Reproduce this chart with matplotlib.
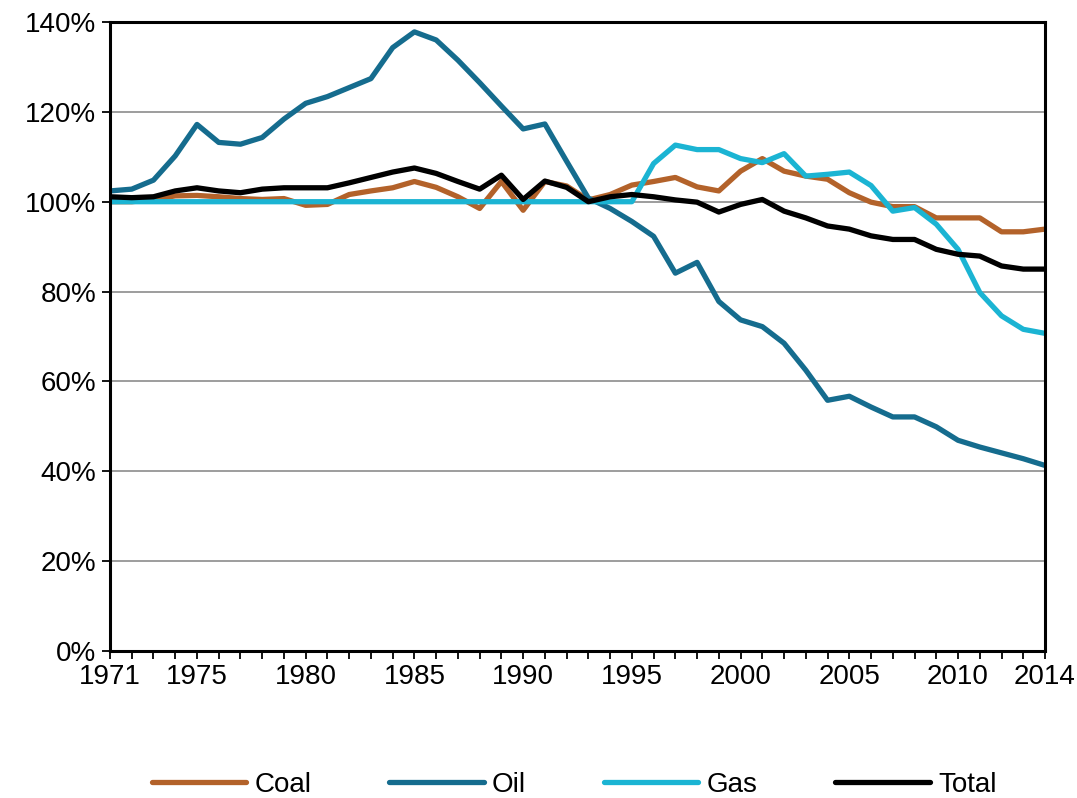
import matplotlib
matplotlib.use('Agg')
import matplotlib.pyplot as plt
import numpy as np

# index of energy intensity, 1971 = 100%
years = np.arange(1971, 2015)

coal = [100.0, 100.0, 100.5, 101.3, 101.4, 101.1, 100.7, 100.5, 100.7, 99.2,
        99.4, 101.6, 102.4, 103.1, 104.5, 103.2, 101.1, 98.5, 104.5, 98.1,
        104.5, 103.5, 100.4, 101.6, 103.7, 104.5, 105.4, 103.3, 102.4, 106.8,
        109.6, 106.8, 105.7, 105.0, 102.0, 99.9, 98.9, 98.9, 96.4, 96.4,
        96.4, 93.3, 93.3, 93.9]

oil = [102.4, 102.8, 104.8, 110.2, 117.2, 113.2, 112.8, 114.3, 118.4, 121.9,
       123.4, 125.4, 127.4, 134.3, 137.8, 136.0, 131.5, 126.5, 121.3, 116.2,
       117.3, 109.0, 100.8, 98.5, 95.6, 92.3, 84.1, 86.5, 77.8, 73.7,
       72.2, 68.5, 62.5, 55.8, 56.7, 54.3, 52.1, 52.1, 49.9, 46.9,
       45.4, 44.1, 42.8, 41.3]

gas = [100.0] * 25 + [108.5, 112.6, 111.6, 111.6, 109.6,
                      108.7, 110.7, 105.7, 106.1, 106.6, 103.6, 97.9, 98.7, 95.0, 89.4,
                      79.8, 74.6, 71.6, 70.7]

total = [101.1, 100.9, 101.1, 102.4, 103.1, 102.4, 102.0, 102.8, 103.1, 103.1,
         103.1, 104.2, 105.4, 106.6, 107.5, 106.3, 104.5, 102.8, 105.9, 100.5,
         104.6, 103.2, 100.0, 101.1, 101.6, 101.1, 100.4, 99.9, 97.7, 99.4,
         100.5, 97.9, 96.4, 94.6, 93.9, 92.4, 91.6, 91.6, 89.4, 88.3,
         87.9, 85.7, 85.0, 85.0]

labels = ['Coal', 'Oil', 'Gas', 'Total']
colors = ['#B3622A', '#156C8E', '#1BB4D3', '#000000']
xlabels = [1971, 1975, 1980, 1985, 1990, 1995, 2000, 2005, 2010, 2014]

plt.rcParams['font.family'] = ['Liberation Sans', 'DejaVu Sans']

fig = plt.figure(figsize=(10.77, 7.98), dpi=100)
ax = fig.add_axes([110/1077, 1 - 651/798, 935/1077, 629/798])

for s, lab, c in zip([coal, oil, gas, total], labels, colors):
    ax.plot(years, s, color=c, lw=3.8, label=lab, solid_joinstyle='round',
            solid_capstyle='round')

ax.set_xlim(1971, 2014)
ax.set_ylim(0, 140)
ax.set_yticks(np.arange(0, 141, 20))
ax.set_yticklabels([str(v) + '%' for v in range(0, 141, 20)])
ax.set_xticks(years, minor=True)
ax.set_xticks(xlabels)
ax.set_xticklabels([str(y) for y in xlabels])

ax.yaxis.grid(True, color='#8c8c8c', lw=1.2)
ax.set_axisbelow(True)
for sp in ax.spines.values():
    sp.set_linewidth(2.2)
    sp.set_color('black')

ax.tick_params(axis='both', which='both', direction='out', length=6, width=1.3,
               labelsize=20, colors='black')
ax.tick_params(axis='x', pad=3)
ax.tick_params(axis='y', pad=4)

fig.legend(loc='center', bbox_to_anchor=(0.533, 1 - 785/798), ncol=4, frameon=False,
           fontsize=20, handlelength=3.4, handletextpad=0.3, columnspacing=2.8)

fig.savefig('out.png', dpi=100)
